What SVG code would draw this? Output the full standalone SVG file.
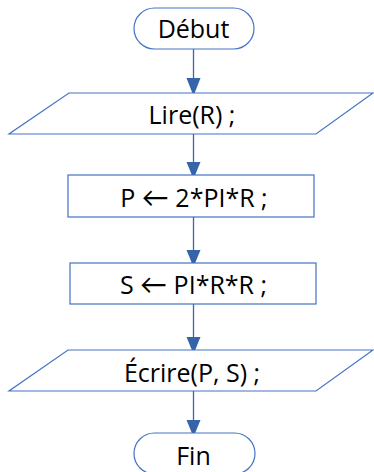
<svg xmlns="http://www.w3.org/2000/svg" width="374" height="472" viewBox="0 0 374 472">
<defs>
<style>
.shape{fill:#fff;stroke:#4472C4;stroke-width:1.2}
.lbl{font-family:"Open Sans","Liberation Sans",sans-serif;font-size:25px;fill:#000;text-anchor:middle}
.arw{font-family:Lato,"DejaVu Sans",sans-serif;font-size:27px}
.conn{stroke:#3A66AE;stroke-width:1.3;fill:none}
.head{fill:#3564A8}
</style>
</defs>
<rect width="374" height="472" fill="#fff"/>
<g id="connectors">
<line class="conn" x1="193.5" y1="49" x2="193.5" y2="78"/>
<path class="head" d="M186.5,78 L200.5,78 L193.5,96 Z"/>
<line class="conn" x1="193.5" y1="134" x2="193.5" y2="162"/>
<path class="head" d="M186.5,162 L200.5,162 L193.5,179 Z"/>
<line class="conn" x1="193.5" y1="217" x2="193.5" y2="250"/>
<path class="head" d="M186.5,250 L200.5,250 L193.5,267 Z"/>
<line class="conn" x1="193.5" y1="304" x2="193.5" y2="337"/>
<path class="head" d="M186.5,337 L200.5,337 L193.5,354 Z"/>
<line class="conn" x1="193.5" y1="391" x2="193.5" y2="420"/>
<path class="head" d="M186.5,420 L200.5,420 L193.5,437 Z"/>
</g>
<g id="debut">
<rect class="shape" x="134" y="8" width="120" height="41" rx="20.5"/>
<text class="lbl" x="193.5" y="38">Début</text>
</g>
<g id="lire">
<polygon class="shape" points="69,93 373,93 316,134 9,134"/>
<text class="lbl" x="192" y="124">Lire(R) ;</text>
</g>
<g id="calcP">
<rect class="shape" x="68" y="175" width="246" height="42"/>
<text class="lbl" x="194" y="207">P <tspan class="arw">←</tspan> 2*PI*R ;</text>
</g>
<g id="calcS">
<rect class="shape" x="70" y="263" width="246" height="41"/>
<text class="lbl" x="193.5" y="294">S <tspan class="arw">←</tspan> PI*R*R ;</text>
</g>
<g id="ecrire">
<polygon class="shape" points="68,350 373,350 316,391 9,391"/>
<text class="lbl" x="192" y="382">Écrire(P, S) ;</text>
</g>
<g id="fin">
<rect class="shape" x="134" y="433" width="121" height="41" rx="20.5"/>
<text class="lbl" x="193.5" y="465">Fin</text>
</g>
</svg>
